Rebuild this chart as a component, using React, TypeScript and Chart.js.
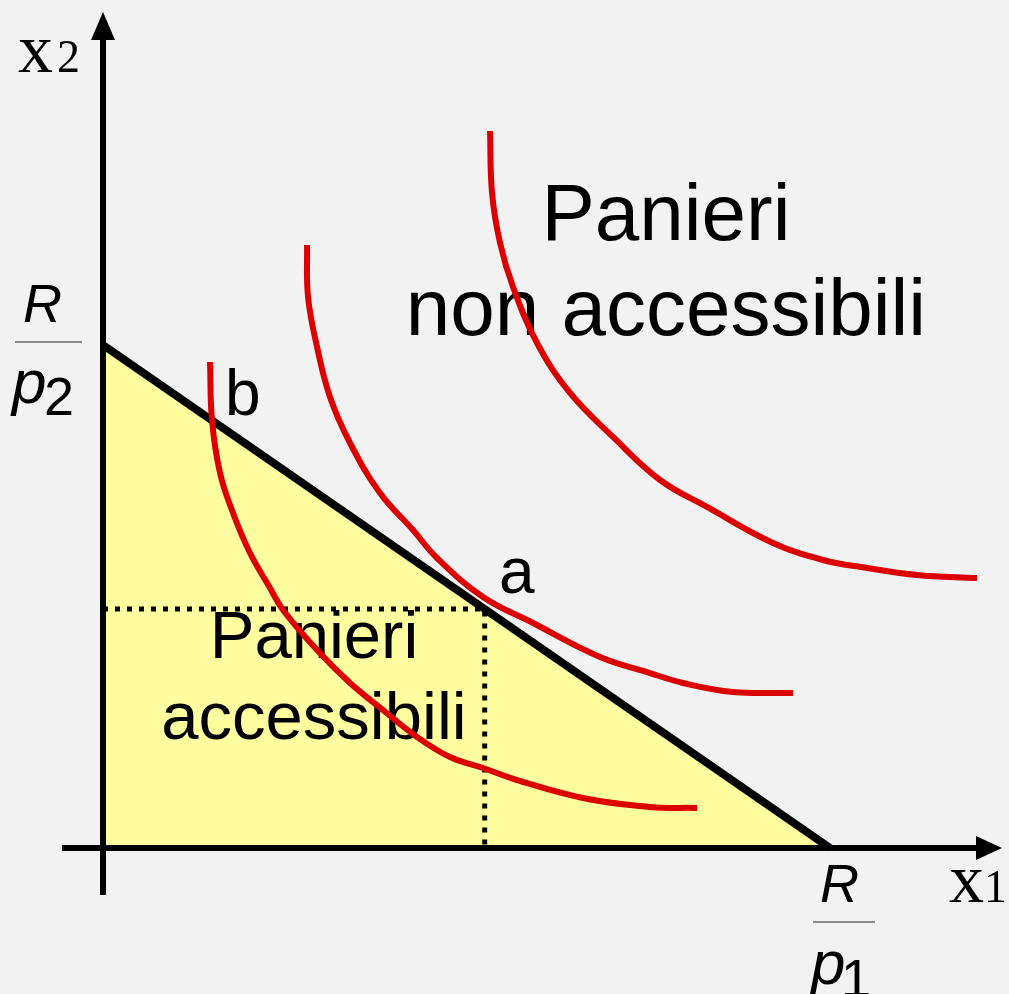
import React, { useEffect, useRef } from "react";
import { Chart, registerables } from "chart.js";

Chart.register(...registerables);

// Budget line: intercepts R/p2 on x2 axis and R/p1 on x1 axis
const budgetLine = [
  { x: 0, y: 7 },
  { x: 10, y: 0 },
];

// Indifference curves
const curveLow = [
  { x: 1.472, y: 6.763 },
  { x: 1.499, y: 5.956 },
  { x: 1.609, y: 5.219 },
  { x: 1.788, y: 4.662 },
  { x: 2.022, y: 4.105 },
  { x: 2.297, y: 3.618 },
  { x: 2.476, y: 3.312 },
  { x: 2.944, y: 2.755 },
  { x: 3.398, y: 2.296 },
  { x: 3.851, y: 1.92 },
  { x: 4.319, y: 1.545 },
  { x: 4.773, y: 1.266 },
  { x: 5.227, y: 1.113 },
  { x: 5.695, y: 0.946 },
  { x: 6.602, y: 0.696 },
  { x: 7.524, y: 0.571 },
  { x: 8.171, y: 0.557 },
];

const curveMid = [
  { x: 2.806, y: 8.392 },
  { x: 2.82, y: 7.668 },
  { x: 2.944, y: 6.972 },
  { x: 3.122, y: 6.276 },
  { x: 3.398, y: 5.636 },
  { x: 3.81, y: 4.94 },
  { x: 4.264, y: 4.425 },
  { x: 4.594, y: 4.036 },
  { x: 5.227, y: 3.493 },
  { x: 5.915, y: 3.131 },
  { x: 6.836, y: 2.658 },
  { x: 7.524, y: 2.435 },
  { x: 7.978, y: 2.296 },
  { x: 8.666, y: 2.171 },
  { x: 9.491, y: 2.157 },
];

const curveHigh = [
  { x: 5.323, y: 9.978 },
  { x: 5.351, y: 9.115 },
  { x: 5.461, y: 8.42 },
  { x: 5.64, y: 7.807 },
  { x: 5.97, y: 7.028 },
  { x: 6.424, y: 6.332 },
  { x: 7.015, y: 5.72 },
  { x: 7.662, y: 5.121 },
  { x: 8.308, y: 4.746 },
  { x: 9.216, y: 4.245 },
  { x: 9.904, y: 4.008 },
  { x: 10.509, y: 3.897 },
  { x: 11.197, y: 3.799 },
  { x: 12.022, y: 3.757 },
];

// Optimal basket a and guide lines
const pointA = { x: 5.25, y: 3.325 };
const dottedGuide = [
  { x: 0, y: pointA.y },
  { x: pointA.x, y: pointA.y },
  { x: pointA.x, y: 0 },
];

// Axes
const xAxisLine = [
  { x: -0.564, y: 0 },
  { x: 12.05, y: 0 },
];
const yAxisLine = [
  { x: 0, y: -0.654 },
  { x: 0, y: 11.27 },
];
const xArrowTip = { x: 12.366, y: 0 };
const yArrowTip = { x: 0, y: 11.634 };

// Scale ranges (so the plot fills the whole canvas)
const X_MIN = -1.417;
const X_MAX = 12.462;
const Y_MIN = -2.032;
const Y_MAX = 11.801;

const RED = "#dc0000";
const YELLOW = "#ffffa0";
const SANS = "'Liberation Sans', Arial, sans-serif";
const SERIF = "'Liberation Serif', 'Times New Roman', serif";

const textPlugin = {
  id: "texts",
  beforeDatasetsDraw(chart: any) {
    const ctx = chart.ctx;
    ctx.save();
    ctx.fillStyle = "#000";
    ctx.textBaseline = "alphabetic";

    // Big region labels
    ctx.textAlign = "center";
    ctx.font = `80px ${SANS}`;
    ctx.fillText("Panieri", 666, 240);
    ctx.fillText("non accessibili", 666, 335);

    ctx.font = `67px ${SANS}`;
    ctx.fillText("Panieri", 314, 658);
    ctx.fillText("accessibili", 314, 739);

    // a and b
    ctx.textAlign = "left";
    ctx.font = `64px ${SANS}`;
    ctx.fillText("b", 225, 415);
    ctx.fillText("a", 499, 593);

    // Axis names
    ctx.font = `70px ${SERIF}`;
    ctx.fillText("x", 18, 72);
    ctx.font = `46px ${SERIF}`;
    ctx.fillText("2", 57, 72);
    ctx.font = `70px ${SERIF}`;
    ctx.fillText("x", 949, 902);
    ctx.font = `46px ${SERIF}`;
    ctx.fillText("1", 984, 902);

    // R/p2
    ctx.font = `italic 54px ${SANS}`;
    ctx.fillText("R", 23, 322);
    ctx.font = `italic 62px ${SANS}`;
    ctx.fillText("p", 12, 403);
    ctx.font = `54px ${SANS}`;
    ctx.fillText("2", 44, 415);
    ctx.strokeStyle = "#666";
    ctx.lineWidth = 1.5;
    ctx.beginPath();
    ctx.moveTo(15, 342);
    ctx.lineTo(82, 342);
    ctx.stroke();

    // R/p1
    ctx.font = `italic 54px ${SANS}`;
    ctx.fillText("R", 820, 902);
    ctx.font = `italic 62px ${SANS}`;
    ctx.fillText("p", 811, 984);
    ctx.font = `54px ${SANS}`;
    ctx.fillText("1", 841, 997);
    ctx.beginPath();
    ctx.moveTo(813, 922);
    ctx.lineTo(875, 922);
    ctx.stroke();

    ctx.restore();
  },
  afterDatasetsDraw(chart: any) {
    const ctx = chart.ctx;
    const xs = chart.scales.x;
    const ys = chart.scales.y;
    ctx.save();
    ctx.fillStyle = "#000";
    // y arrow
    const yx = xs.getPixelForValue(yArrowTip.x);
    const yy = ys.getPixelForValue(yArrowTip.y);
    ctx.beginPath();
    ctx.moveTo(yx, yy);
    ctx.lineTo(yx - 12, yy + 28);
    ctx.lineTo(yx + 12, yy + 28);
    ctx.closePath();
    ctx.fill();
    // x arrow
    const xx = xs.getPixelForValue(xArrowTip.x);
    const xy = ys.getPixelForValue(xArrowTip.y);
    ctx.beginPath();
    ctx.moveTo(xx, xy);
    ctx.lineTo(xx - 26, xy - 12);
    ctx.lineTo(xx - 26, xy + 12);
    ctx.closePath();
    ctx.fill();
    ctx.restore();
  },
};

export default function App() {
  const ref = useRef<HTMLCanvasElement | null>(null);

  useEffect(() => {
    if (!ref.current) return;
    const line = (data: any[], color: string, width: number, extra: any = {}) => ({
      data,
      showLine: true,
      borderColor: color,
      borderWidth: width,
      pointRadius: 0,
      pointHoverRadius: 0,
      fill: false,
      clip: false,
      ...extra,
    });
    const chart = new Chart(ref.current, {
      type: "scatter",
      data: {
        datasets: [
          line(curveHigh, RED, 6, { tension: 0.4 }),
          line(curveMid, RED, 6, { tension: 0.4 }),
          line(curveLow, RED, 6, { tension: 0.4 }),
          line(budgetLine, "#000", 8),
          line(dottedGuide, "#000", 5, { borderDash: [5, 7] }),
          line(xAxisLine, "#000", 6),
          line(yAxisLine, "#000", 6),
          line(budgetLine, "rgba(0,0,0,0)", 0, {
            fill: "origin",
            backgroundColor: YELLOW,
          }),
        ] as any,
      },
      options: {
        responsive: false,
        animation: false,
        devicePixelRatio: 1,
        layout: { padding: 0 },
        events: [],
        plugins: {
          legend: { display: false },
          tooltip: { enabled: false },
          filler: { drawTime: "beforeDraw" },
        } as any,
        scales: {
          x: { type: "linear", min: X_MIN, max: X_MAX, display: false },
          y: { type: "linear", min: Y_MIN, max: Y_MAX, display: false },
        },
      },
      plugins: [textPlugin],
    });
    return () => chart.destroy();
  }, []);

  return (
    <div
      style={{
        position: "fixed",
        left: 0,
        top: 0,
        width: 1009,
        height: 994,
        background: "#f2f2f2",
      }}
    >
      <canvas ref={ref} width={1009} height={994} style={{ display: "block" }} />
    </div>
  );
}
